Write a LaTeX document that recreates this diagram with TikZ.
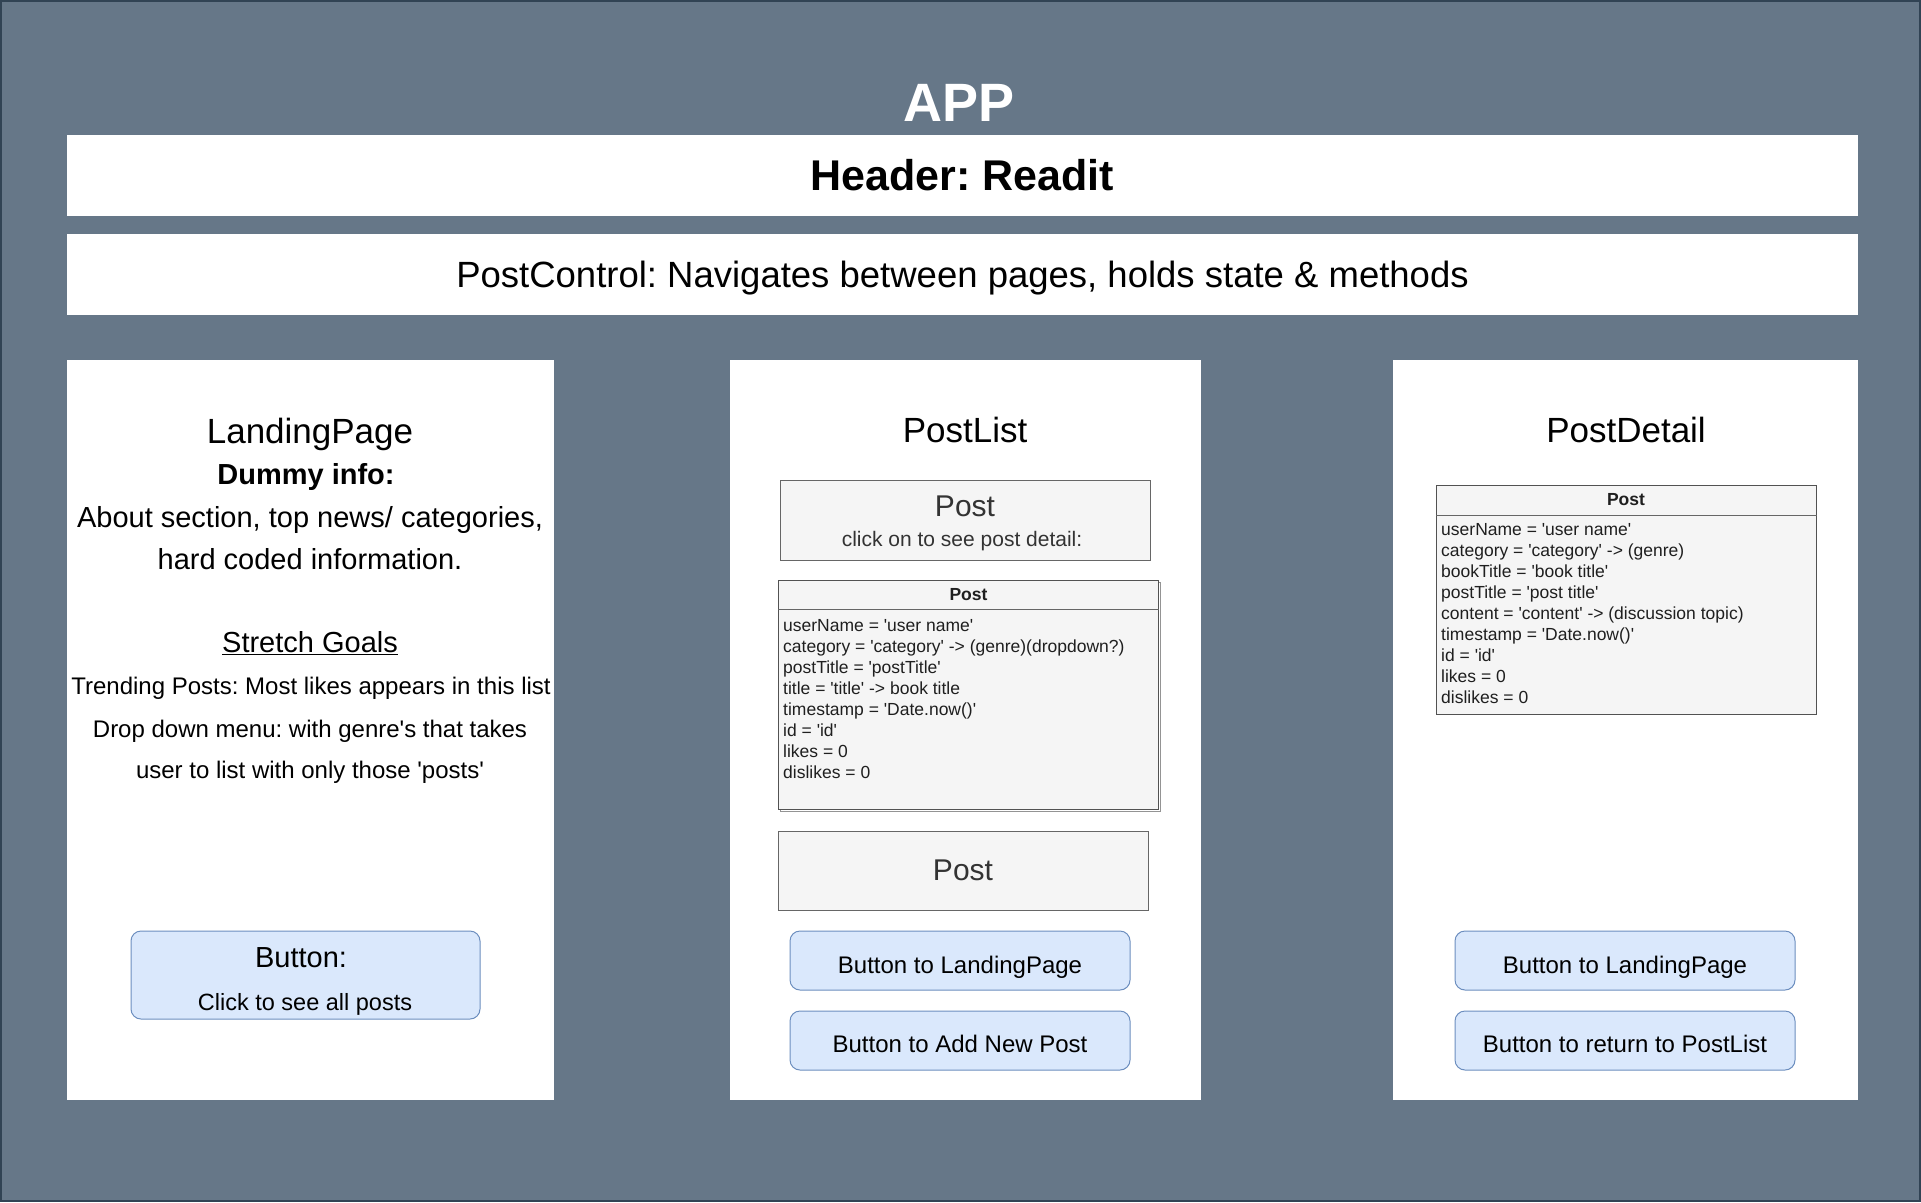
\documentclass[tikz,border=0pt]{standalone}
\usepackage{fontspec}
\setmainfont{Liberation Sans}[Ligatures=TeXOff]
\frenchspacing
\definecolor{appfill}{HTML}{667788}
\definecolor{appline}{HTML}{314354}
\definecolor{boxfill}{HTML}{F5F5F5}
\definecolor{boxline}{HTML}{666666}
\definecolor{boxtext}{HTML}{333333}
\definecolor{btnfill}{HTML}{DAE8FC}
\definecolor{btnline}{HTML}{6C8EBF}
\newcommand{\fsz}[1]{\fontsize{#1}{#1}\selectfont}
\tikzset{
  bar/.style={fill=white, draw=none, inner sep=0pt},
  panel/.style={fill=white, draw=none, inner sep=0pt},
  lbl/.style={inner sep=0pt, anchor=center},
  postbox/.style={fill=boxfill, draw=boxline, line width=1pt, inner sep=0pt},
  umlbox/.style={fill=boxfill, draw=boxline!80!black, line width=1.3pt, inner sep=0pt},
  attr/.style={inner sep=0pt, anchor=base west, text=boxtext!60!black, font=\fsz{17.5}},
  btn/.style={fill=btnfill, draw=btnline, line width=1pt, rounded corners=10pt, inner sep=0pt},
}
\begin{document}
\begin{tikzpicture}[x=1pt,y=-1pt]
\useasboundingbox (0,0) rectangle (1921,1202);
% application frame
\draw[fill=appfill, draw=appline, line width=2pt] (1,1) rectangle (1920,1201);
\node[lbl, text=white, font=\bfseries\fsz{54}] (app) at (959,103) {APP};

% top bars
\node[bar, minimum width=1791, minimum height=81] (header) at (962.5,175.5) {};
\node[lbl, font=\bfseries\fsz{43}] (headertxt) at (962.5,175) {Header: Readit};
\node[bar, minimum width=1791, minimum height=81] (control) at (962.5,274.5) {};
\node[lbl, font=\fsz{36.5}] (controltxt) at (962.5,278) {PostControl: Navigates between pages, holds state \& methods};

% three page panels
\node[panel, minimum width=487, minimum height=740] (landing) at (310.5,730) {};
\node[panel, minimum width=471, minimum height=740] (postlist) at (965.5,730) {};
\node[panel, minimum width=465, minimum height=740] (postdetail) at (1625.5,730) {};

% LandingPage
\node[lbl, font=\fsz{35}] (lptitle) at (310,434) {LandingPage};
\node[lbl, font=\bfseries\fsz{29}] (lpdummy) at (306,477) {Dummy info:};
\node[lbl, font=\fsz{29}] (lpabout1) at (310,520) {About section, top news/ categories,};
\node[lbl, font=\fsz{29}] (lpabout2) at (310,559) {hard coded information.};
\node[lbl, font=\fsz{29}] (lpstretch) at (310,643) {\underline{Stretch Goals}};
\node[lbl, font=\fsz{24}] (lpgoal1) at (311,688) {Trending Posts: Most likes appears in this list};
\node[lbl, font=\fsz{24}] (lpgoal2) at (310,731) {Drop down menu: with genre's that takes};
\node[lbl, font=\fsz{24}] (lpgoal3) at (310,772) {user to list with only those 'posts'};
\node[btn, minimum width=349, minimum height=88] (lpbtn) at (305.5,975) {};
\node[lbl, font=\fsz{29}] (lpbtn1) at (301,958) {Button:};
\node[lbl, font=\fsz{23.5}] (lpbtn2) at (305,1004) {Click to see all posts};

% PostList
\node[lbl, font=\fsz{35}] (pltitle) at (965,430) {PostList};
\node[postbox, minimum width=370, minimum height=80] (plpost1) at (965,520) {};
\node[lbl, text=boxtext, font=\fsz{30}] (plpost1a) at (965,506) {Post};
\node[lbl, text=boxtext, font=\fsz{21}] (plpost1b) at (962,541) {click on to see post detail:};
% class box with its attributes
\draw[boxline!70, line width=1pt] (780,582) rectangle (1160,811);
\node[umlbox, minimum width=380, minimum height=229, anchor=north west] (pluml) at (778,580) {};
\draw[boxline, line width=1pt] (pluml.west |- 0,609) -- (pluml.east |- 0,609);
\node[lbl, text=boxtext!60!black, font=\bfseries\fsz{17.5}] (plumlhead) at (968.5,594.5) {Post};
\foreach \t [count=\i] in {userName = 'user name',
    category = 'category' -> (genre)(dropdown?),
    postTitle = 'postTitle',
    title = 'title' -> book title,
    timestamp = 'Date.now()',
    id = 'id',
    likes = 0,
    dislikes = 0}
  \node[attr] (plattr\i) at (783,{631+21*(\i-1)}) {\t};
\node[postbox, minimum width=370, minimum height=79] (plpost2) at (963,870.5) {};
\node[lbl, text=boxtext, font=\fsz{30}] (plpost2a) at (963,870) {Post};
\node[btn, minimum width=340, minimum height=59] (plbtn1) at (960,960.5) {};
\node[lbl, font=\fsz{24}] (plbtn1t) at (960,967) {Button to LandingPage};
\node[btn, minimum width=340, minimum height=59] (plbtn2) at (960,1040.5) {};
\node[lbl, font=\fsz{24}] (plbtn2t) at (960,1044) {Button to Add New Post};

% PostDetail
\node[lbl, font=\fsz{35}] (pdtitle) at (1626,430) {PostDetail};
\node[umlbox, minimum width=380, minimum height=229, anchor=north west] (pduml) at (1436,485) {};
\draw[boxline, line width=1pt] (pduml.west |- 0,515) -- (pduml.east |- 0,515);
\node[lbl, text=boxtext!60!black, font=\bfseries\fsz{17.5}] (pdumlhead) at (1626,500) {Post};
\foreach \t [count=\i] in {userName = 'user name',
    category = 'category' -> (genre),
    bookTitle = 'book title',
    postTitle = 'post title',
    content = 'content' -> (discussion topic),
    timestamp = 'Date.now()',
    id = 'id',
    likes = 0,
    dislikes = 0}
  \node[attr] (pdattr\i) at (1441,{535+21*(\i-1)}) {\t};
\node[btn, minimum width=340, minimum height=59] (pdbtn1) at (1625,960.5) {};
\node[lbl, font=\fsz{24}] (pdbtn1t) at (1625,967) {Button to LandingPage};
\node[btn, minimum width=340, minimum height=59] (pdbtn2) at (1625,1040.5) {};
\node[lbl, font=\fsz{24}] (pdbtn2t) at (1625,1044) {Button to return to PostList};
\end{tikzpicture}
\end{document}
